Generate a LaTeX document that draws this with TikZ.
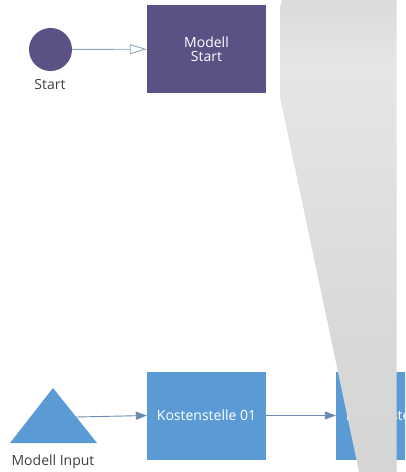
\documentclass[tikz,border=0pt]{standalone}
\usepackage{fontspec}
\setmainfont{Open Sans}
\usepackage{tikz}
\usetikzlibrary{positioning,arrows.meta}

\definecolor{violet}{HTML}{5C5185}
\definecolor{kblue}{HTML}{5B9BD5}
\definecolor{lnblue}{HTML}{8AA5BD}
\definecolor{lndark}{HTML}{6A89AD}
\definecolor{lbl}{HTML}{404040}

\pgfdeclareverticalshading{lens}{100bp}{color(0bp)=(black!19);
  color(40bp)=(black!15); color(68bp)=(black!10); color(100bp)=(black!30)}

\begin{document}
\begin{tikzpicture}[
  x=1pt, y=-1pt,
  font=\fontsize{14}{16}\selectfont,
  blk/.style={align=center, text=white, inner sep=2pt,
              minimum width=119pt, minimum height=88pt},
  lab/.style={text=lbl},
  ar/.style={-{Triangle[length=11pt,width=8pt]}, lndark, line width=0.9pt},
]
  \clip (0,0) rectangle (405,472);

  % start event
  \node[circle, fill=violet, minimum size=43pt, inner sep=0pt] (st) at (50.5,49.5) {};
  \node[lab] (stlbl) at (50,84) {Start};
  \node[blk, fill=violet] (mst) at (206.5,49) {Modell\\[-2pt]Start};
  \draw[-{Triangle[open,length=17pt,width=10pt]}, lnblue, line width=0.9pt] (st) -- (mst);

  % input
  \fill[kblue] (53,388) -- (97,443) -- (10,443) -- cycle;
  \coordinate (inp) at (76,417);
  \node[lab] (inlbl) at (53,462) {Modell Input};

  % cost centres
  \node[blk, fill=kblue] (k1) at (206.5,415.5) {Kostenstelle 01};
  \node[blk, fill=kblue] (k2) at (395.5,415.5) {Kostenstelle 02};
  \draw[ar] (inp) -- (k1.west);
  \draw[ar] (k1) -- (k2);

  % overlay
  \shade[shading=lens]
    (283,-2) -- (396.7,-2) -- (396.7,474) -- (359.5,474) -- (280,97)
    -- (280,7) -- cycle;
\end{tikzpicture}
\end{document}
